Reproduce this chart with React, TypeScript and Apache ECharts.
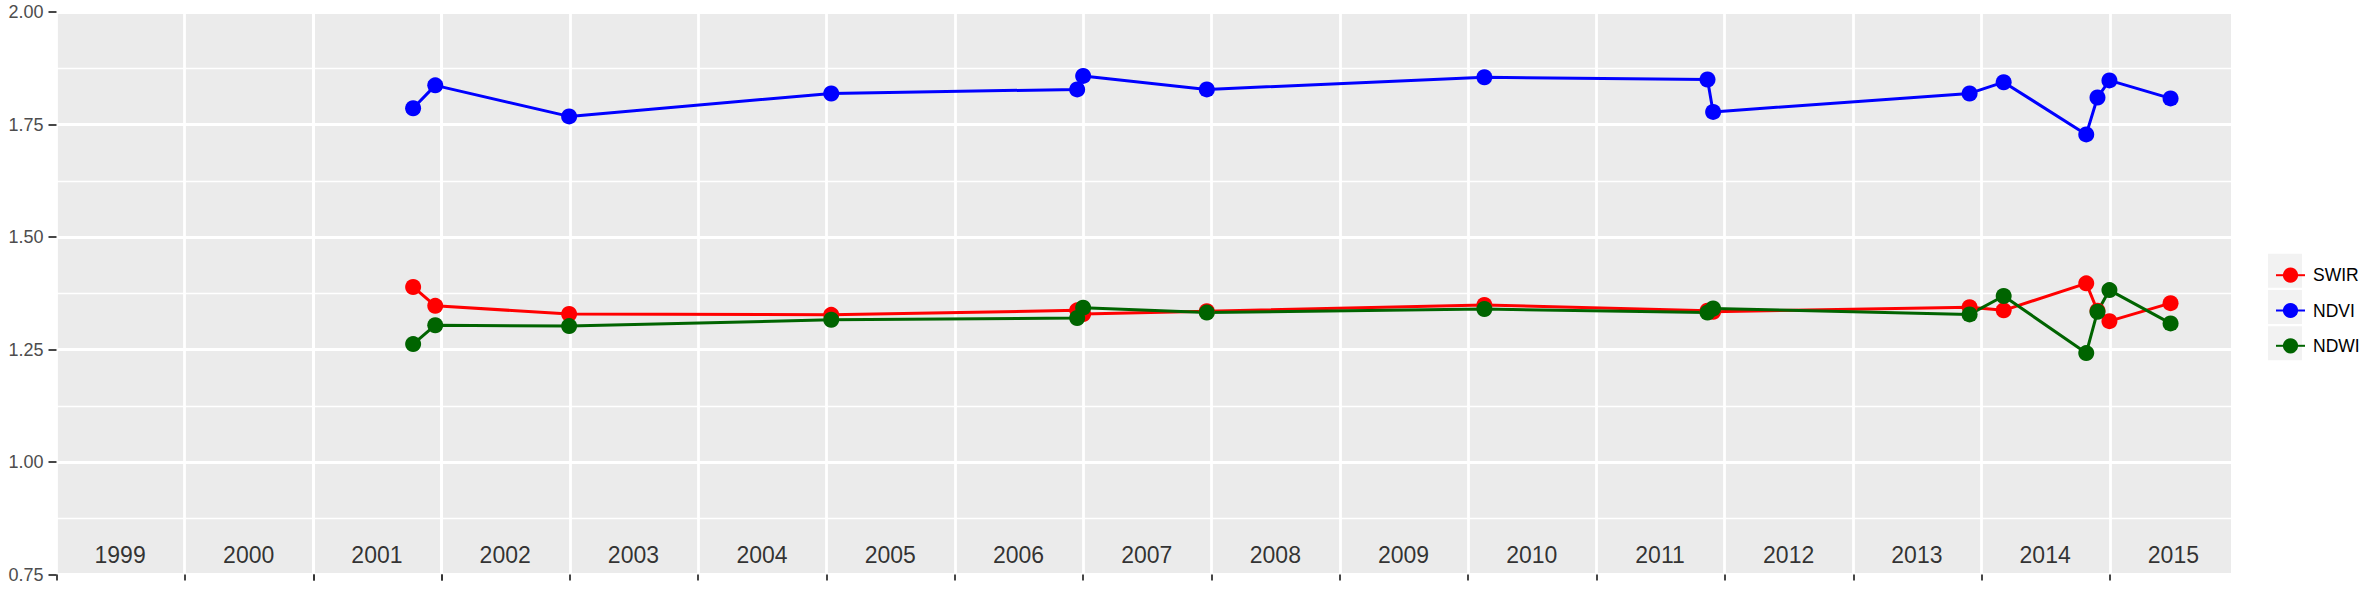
import React, { useEffect, useRef } from "react";
import * as echarts from "echarts";

const DATES = [
  "2001-10-12", "2001-12-14", "2002-12-30", "2005-01-14", "2006-12-15", "2007-01-01",
  "2007-12-19", "2010-02-16", "2011-11-13", "2011-11-29", "2013-11-28", "2014-03-05",
  "2014-10-26", "2014-11-27", "2014-12-31", "2015-06-23",
];
const SWIR = [1.389, 1.347, 1.329, 1.327, 1.337, 1.329, 1.335, 1.349, 1.336, 1.334, 1.344, 1.337, 1.397, 1.336, 1.313, 1.353];
const NDVI = [1.786, 1.837, 1.768, 1.819, 1.828, 1.858, 1.828, 1.855, 1.850, 1.778, 1.819, 1.844, 1.728, 1.810, 1.848, 1.808];
const NDWI = [1.262, 1.304, 1.302, 1.316, 1.320, 1.343, 1.332, 1.340, 1.332, 1.341, 1.328, 1.369, 1.242, 1.334, 1.382, 1.308];
const YEARS = [1999, 2000, 2001, 2002, 2003, 2004, 2005, 2006, 2007, 2008, 2009, 2010, 2011, 2012, 2013, 2014, 2015];
const YEAR_LABEL_Y = 0.793;
const Y_MIN = 0.75;
const Y_MAX = 2.0;
const Y_STEP = 0.25;
const X_MIN = "1999-01-01";
const X_MAX = "2015-12-12";
const SERIES_NAMES = ["SWIR", "NDVI", "NDWI"];
const SERIES_COLORS = ["#FF0000", "#0000FF", "#006400"];

const FONT = "'Liberation Sans', Arial, sans-serif";
const ONE_YEAR = 365.25 * 24 * 3600 * 1000;

function utc(s: string): number {
  const [y, m, d] = s.split("-").map(Number);
  return Date.UTC(y, m - 1, d);
}

export default function App() {
  const ref = useRef<HTMLDivElement>(null);
  useEffect(() => {
    document.body.style.margin = "0";
    const chart = echarts.init(ref.current!, null, { renderer: "svg" });
    const values = [SWIR, NDVI, NDWI];
    const lineSeries = SERIES_NAMES.map((name, i) => ({
      name,
      type: "line",
      data: DATES.map((d, j) => [utc(d), values[i][j]]),
      symbol: "circle",
      symbolSize: 16,
      showSymbol: true,
      color: SERIES_COLORS[i],
      itemStyle: { color: SERIES_COLORS[i] },
      lineStyle: { color: SERIES_COLORS[i], width: 3 },
      z: 3,
    }));
    const yearStarts = YEARS.map((y) => Date.UTC(y, 0, 1));
    const legendTops = [253.7, 290, 326.3];
    chart.setOption({
      animation: false,
      useUTC: true,
      textStyle: { fontFamily: FONT },
      grid: {
        left: 56.5,
        right: 147,
        top: 12,
        bottom: 18.5,
        show: true,
        backgroundColor: "#EBEBEB",
        borderWidth: 0,
      },
      xAxis: {
        type: "time",
        min: utc(X_MIN),
        max: utc(X_MAX),
        minInterval: ONE_YEAR,
        maxInterval: ONE_YEAR,
        axisLabel: { show: false },
        axisLine: { show: false },
        axisTick: {
          show: true,
          length: 6,
          customValues: yearStarts,
          lineStyle: { color: "#333333", width: 1.8 },
        },
        splitLine: { show: true, lineStyle: { color: "#FFFFFF", width: 2.8 } },
      },
      yAxis: {
        type: "value",
        min: Y_MIN,
        max: Y_MAX,
        interval: Y_STEP,
        axisLabel: {
          formatter: (v: number) => v.toFixed(2),
          fontSize: 18,
          color: "#4D4D4D",
          margin: 13,
          fontFamily: FONT,
        },
        axisLine: { show: false },
        axisTick: { show: true, length: 8, lineStyle: { color: "#333333", width: 1.8 } },
        splitLine: { show: true, lineStyle: { color: "#FFFFFF", width: 2.8 } },
        minorTick: { show: false, splitNumber: 2 },
        minorSplitLine: { show: true, lineStyle: { color: "#FFFFFF", width: 1.4 } },
      },
      legend: {
        data: SERIES_NAMES,
        orient: "vertical",
        left: 2270,
        top: 261.2,
        itemWidth: 29,
        itemHeight: 19,
        itemGap: 17.3,
        selectedMode: false,
        z: 10,
        textStyle: { fontSize: 17.5, color: "#000000", fontFamily: FONT, padding: [0, 0, 0, 3] },
      },
      graphic: legendTops.map((t) => ({
        type: "rect",
        left: 2268,
        top: t,
        z: -10,
        shape: { width: 34, height: 34 },
        style: { fill: "#F2F2F2" },
        silent: true,
      })),
      series: [
        ...lineSeries,
        {
          name: "years",
          type: "scatter",
          silent: true,
          data: YEARS.map((y) => [Date.UTC(y, 6, 1), YEAR_LABEL_Y]),
          symbolSize: 1,
          itemStyle: { color: "rgba(0,0,0,0)" },
          label: {
            show: true,
            position: "inside",
            formatter: (p: any) => String(YEARS[p.dataIndex]),
            fontSize: 23,
            color: "#000000",
            fontFamily: FONT,
          },
          z: 2,
        },
      ],
    });
    return () => chart.dispose();
  }, []);
  return (
    <div
      ref={ref}
      style={{ position: "absolute", left: 0, top: 0, width: 2378, height: 593 }}
    />
  );
}
